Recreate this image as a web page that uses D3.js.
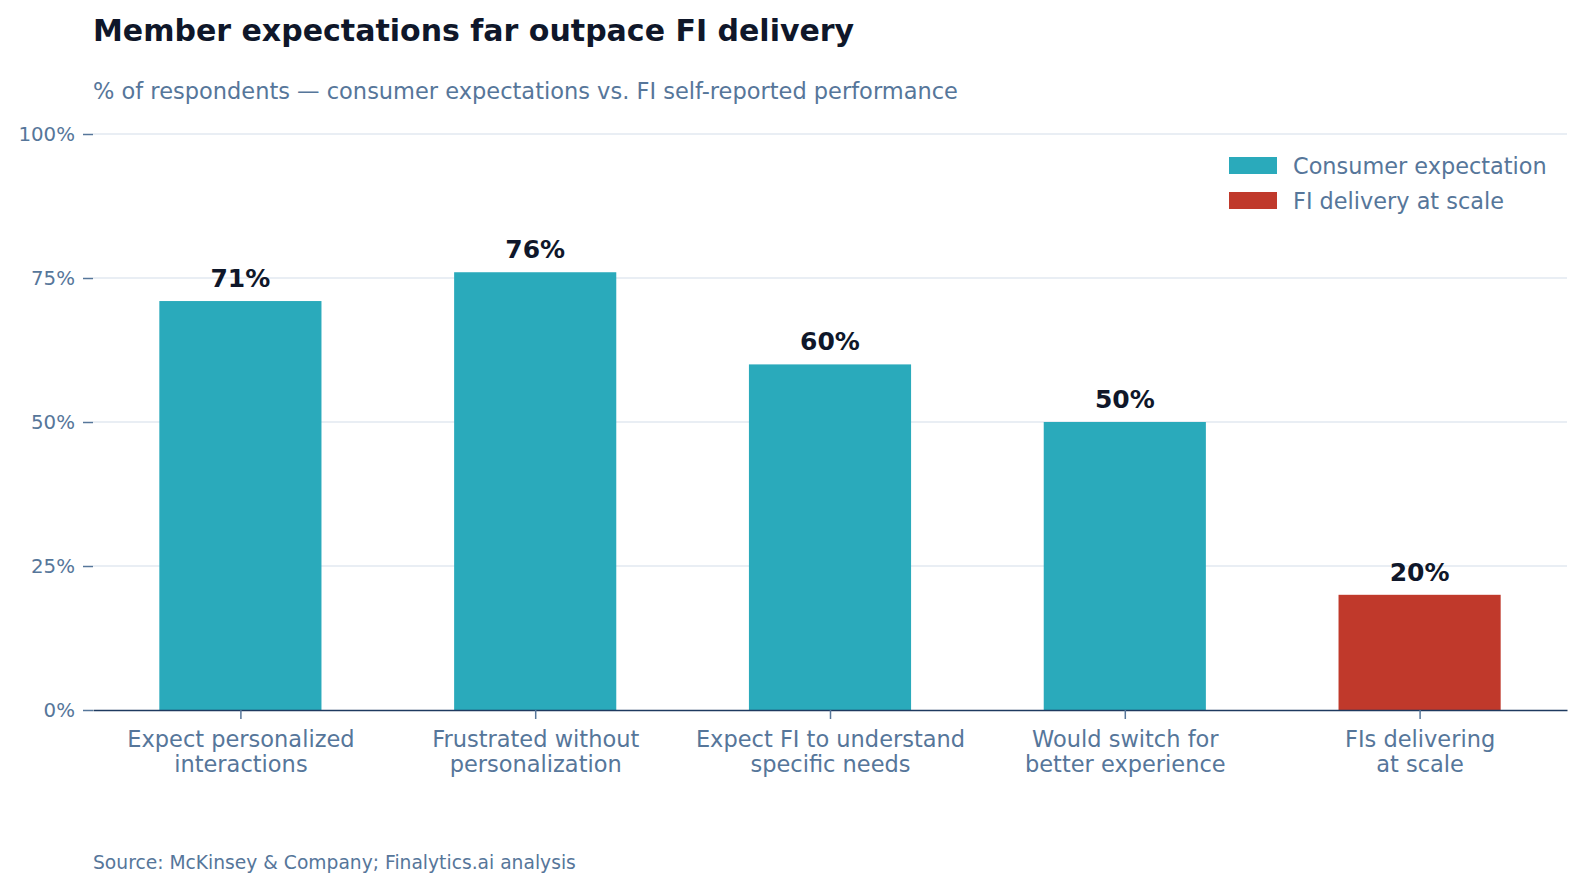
<!DOCTYPE html>
<html>
<head>
<meta charset="utf-8">
<script src="https://cdn.jsdelivr.net/npm/d3@7"></script>
<style>
  body { margin: 0; background: #fff; }
  text { font-family: "DejaVu Sans", sans-serif; }
</style>
</head>
<body>
<div id="wrapper"></div>
<script>
const categories = [
  "Expect personalized\ninteractions",
  "Frustrated without\npersonalization",
  "Expect FI to understand\nspecific needs",
  "Would switch for\nbetter experience",
  "FIs delivering\nat scale",
];
const values = [71, 76, 60, 50, 20];
const seriesOf = ["Consumer expectation", "Consumer expectation", "Consumer expectation", "Consumer expectation", "FI delivery at scale"];
const seriesNames = ["Consumer expectation", "FI delivery at scale"];
const yTicks = [0, 25, 50, 75, 100];

const colors = { "Consumer expectation": "#2aaabb", "FI delivery at scale": "#c0392b" };
const textColor = "#56769a";

const dimensions = {
  width: 1585,
  height: 891,
  margin: { top: 134, right: 18, bottom: 181, left: 93 },
};
dimensions.boundedWidth = dimensions.width - dimensions.margin.left - dimensions.margin.right;
dimensions.boundedHeight = dimensions.height - dimensions.margin.top - dimensions.margin.bottom;

const svg = d3.select("#wrapper")
  .append("svg")
  .attr("width", dimensions.width)
  .attr("height", dimensions.height);

svg.append("text")
  .attr("x", 93).attr("y", 41)
  .attr("font-size", 30).attr("font-weight", "bold")
  .attr("fill", "#0f172a")
  .text("Member expectations far outpace FI delivery");

svg.append("text")
  .attr("x", 93).attr("y", 99)
  .attr("font-size", 22.5)
  .attr("fill", textColor)
  .text("% of respondents \u2014 consumer expectations vs. FI self-reported performance");

svg.append("text")
  .attr("x", 93).attr("y", 869)
  .attr("font-size", 18.7)
  .attr("fill", textColor)
  .text("Source: McKinsey & Company; Finalytics.ai analysis");

const bounds = svg.append("g")
  .attr("transform", `translate(${dimensions.margin.left},${dimensions.margin.top})`);

const xScale = d3.scaleLinear()
  .domain([-0.5, categories.length - 0.5])
  .range([0, dimensions.boundedWidth]);

const yScale = d3.scaleLinear()
  .domain([0, 100])
  .range([dimensions.boundedHeight, 0]);

const barWidth = xScale(0.55) - xScale(0);

// gridlines
bounds.append("g")
  .selectAll("line")
  .data(yTicks.filter(d => d > 0))
  .join("line")
  .attr("x1", 0).attr("x2", dimensions.boundedWidth)
  .attr("y1", d => yScale(d)).attr("y2", d => yScale(d))
  .attr("stroke", "#e2e8f0").attr("stroke-width", 1.3);

// y axis
const yAxis = bounds.append("g")
  .call(d3.axisLeft(yScale).tickValues(yTicks).tickFormat(d => d + "%").tickSize(10).tickPadding(8));
yAxis.select(".domain").remove();
yAxis.selectAll(".tick line").attr("stroke", textColor).attr("stroke-width", 1.5);
yAxis.selectAll(".tick text")
  .attr("font-size", 19.8)
  .attr("font-family", "DejaVu Sans")
  .attr("fill", textColor);

// bars
bounds.append("g")
  .selectAll("rect")
  .data(values)
  .join("rect")
  .attr("x", (d, i) => xScale(i) - barWidth / 2)
  .attr("y", d => yScale(d))
  .attr("width", barWidth)
  .attr("height", d => dimensions.boundedHeight - yScale(d))
  .attr("fill", (d, i) => colors[seriesOf[i]]);

// value labels
bounds.append("g")
  .selectAll("text")
  .data(values)
  .join("text")
  .attr("x", (d, i) => xScale(i))
  .attr("y", d => yScale(d) - 14)
  .attr("text-anchor", "middle")
  .attr("font-size", 25).attr("font-weight", "bold")
  .attr("fill", "#0f172a")
  .text(d => d + "%");

// x axis
const xAxis = bounds.append("g")
  .attr("transform", `translate(0,${dimensions.boundedHeight})`)
  .call(d3.axisBottom(xScale).tickValues(d3.range(categories.length)).tickFormat("").tickSize(9).tickSizeOuter(0));
xAxis.select(".domain").attr("stroke", "#1e3a5f").attr("stroke-width", 1.5);
xAxis.selectAll(".tick line").attr("stroke", textColor).attr("stroke-width", 1.5);
xAxis.selectAll(".tick").append("text")
  .attr("text-anchor", "middle")
  .attr("font-size", 22.5)
  .attr("fill", textColor)
  .selectAll("tspan")
  .data(i => categories[i].split("\n"))
  .join("tspan")
  .attr("x", 0)
  .attr("y", (d, j) => 37 + j * 25)
  .text(d => d);

// legend
const legend = svg.append("g").attr("transform", "translate(1229,157)");
const legendItems = legend.selectAll("g")
  .data(seriesNames)
  .join("g")
  .attr("transform", (d, i) => `translate(0,${i * 35})`);
legendItems.append("rect")
  .attr("width", 48).attr("height", 17)
  .attr("fill", d => colors[d]);
legendItems.append("text")
  .attr("x", 64).attr("y", 8.5)
  .attr("dominant-baseline", "central")
  .attr("font-size", 22.4)
  .attr("fill", textColor)
  .text(d => d);
</script>
</body>
</html>
